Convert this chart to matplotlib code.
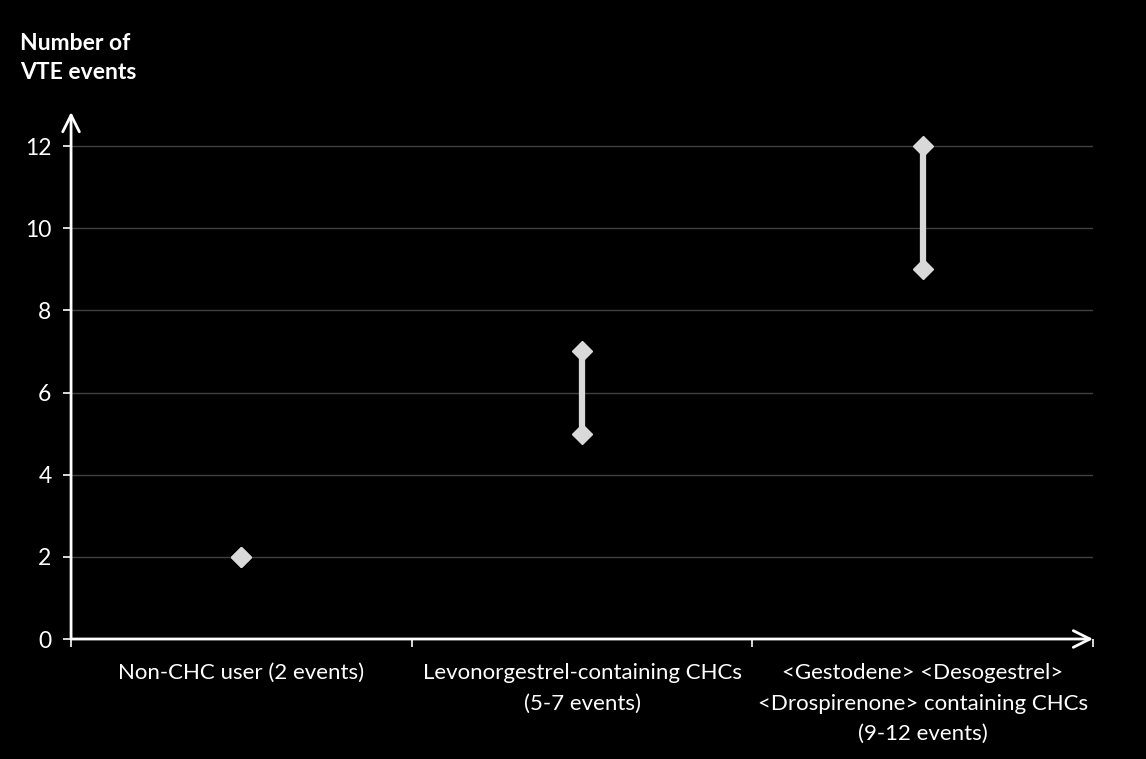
import matplotlib
matplotlib.use("Agg")
import matplotlib.pyplot as plt
import numpy as np

categories = ["Non-CHC user (2 events)",
              "Levonorgestrel-containing CHCs\n(5-7 events)",
              "<Gestodene> <Desogestrel>\n<Drospirenone> containing CHCs\n(9-12 events)"]
low = [2, 5, 9]
high = [2, 7, 12]
yticks = [0, 2, 4, 6, 8, 10, 12]

plt.rcParams['font.family'] = ['Lato', 'DejaVu Sans']
fig = plt.figure(figsize=(11.46, 7.59), dpi=100, facecolor='black')
ax = fig.add_axes([0.062, 0.1581, 0.8918, 0.6943], facecolor='black')

x = np.arange(len(categories))
col = '#d9d9d9'
for xi, lo, hi in zip(x, low, high):
    if hi != lo:
        ax.plot([xi, xi], [lo, hi], color=col, lw=4.5, solid_capstyle='butt', zorder=3)
    ax.plot([xi, xi], [lo, hi], linestyle='none', marker='D', markersize=10.5,
            color=col, zorder=4)

ax.set_xlim(-0.5, len(categories) - 0.5)
ax.set_ylim(0, 12.83)
ax.set_yticks(yticks)
ax.set_yticklabels([str(v) for v in yticks], color='white', fontsize=16.5)
for v in yticks[1:]:
    ax.axhline(v, color='#404040', lw=1, zorder=1)

ax.set_xticks(np.arange(len(categories) + 1) - 0.5)
ax.set_xticklabels([])
ax.tick_params(axis='x', length=6, width=1.2, color='white', direction='out')
ax.tick_params(axis='y', length=6, width=1.2, color='white', direction='out', pad=8)
for xi, c in zip(x, categories):
    ax.text(xi, -0.59, c, ha='center', va='top', color='white', fontsize=16,
            linespacing=1.66, transform=ax.transData)

for s in ['top', 'right', 'left', 'bottom']:
    ax.spines[s].set_visible(False)

ax.annotate('', xy=(0, 1.0), xycoords='axes fraction', xytext=(0, 0),
            arrowprops=dict(arrowstyle='->', color='white', lw=2, mutation_scale=30,
                            shrinkA=0, shrinkB=0))
ax.annotate('', xy=(1.0, 0), xycoords='axes fraction', xytext=(0, 0),
            arrowprops=dict(arrowstyle='->', color='white', lw=2, mutation_scale=30,
                            shrinkA=0, shrinkB=0))

fig.text(20/1146, 1 - 33/759, "Number of\nVTE events", ha='left', va='top',
         color='white', fontsize=16.5, fontweight='bold', linespacing=1.45)

fig.savefig("out.png", dpi=100, facecolor='black')
